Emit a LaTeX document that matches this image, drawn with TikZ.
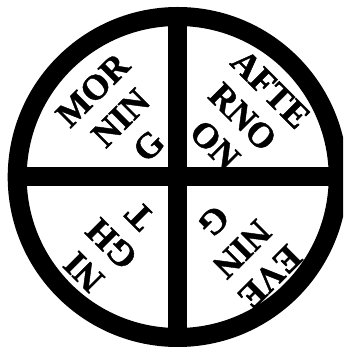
\documentclass[tikz,border=0pt]{standalone}
\usepackage{fontspec}
\setmainfont[BoldFeatures={FakeBold=1.2}]{Liberation Serif}
\begin{document}
\begin{tikzpicture}[x=1pt,y=1pt,
  ring/.style={draw=black,line width=19pt},
  bar/.style={draw=black,line width=19pt},
  word/.style={font=\bfseries\fontsize{35.5}{39.5}\selectfont,align=center,inner sep=0pt}]
\useasboundingbox[fill=white] (-177.7,-170) rectangle (165.3,177);
\clip (-177.7,-170) rectangle (165.3,177);
\coordinate (c) at (0,0);
\draw[ring] (c) circle[radius=160.5];
\draw[bar] (-160.5,0) -- (160.5,0);
\draw[bar] (0,-160.5) -- (0,160.5);
\node[word,rotate=45] (morning) at (-57,59) {MOR\\NIN\\G};
\node[word,rotate=-45] (afternoon) at (65,60) {AFTE\\RNO\\ON};
\node[word,rotate=225] (evening) at (64,-72) {EVE\\NIN\\G};
\node[word,rotate=135] (night) at (-66,-67) {NI\\GH\\T};
\end{tikzpicture}
\end{document}
